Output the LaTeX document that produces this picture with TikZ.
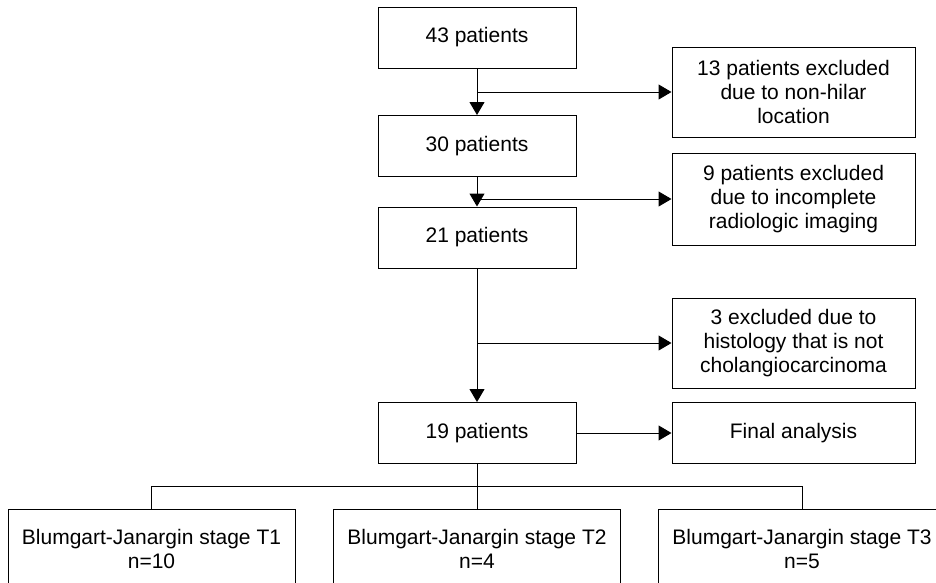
\documentclass[tikz,border=0pt]{standalone}
\usepackage{fontspec}
\setmainfont{Liberation Sans}
\usetikzlibrary{arrows.meta}
\begin{document}
\begin{tikzpicture}[x=1pt,y=-1pt,
 box/.style={draw, line width=1pt, align=center, font=\fontsize{21}{24}\selectfont, inner sep=0pt},
 mainbox/.style={box, minimum width=198pt, minimum height=61pt},
 sidebox/.style={box, minimum width=243pt},
 stagebox/.style={box, minimum width=287pt, minimum height=79pt, anchor=north},
 arr/.style={line width=1pt, -{Triangle[length=13pt,width=15pt]}},
 ln/.style={line width=1pt}]
\useasboundingbox (0,0) rectangle (936,582);
\clip (0,0) rectangle (936,582);
% main column
\node[mainbox] (n43) at (477,37.5) {43 patients};
\node[mainbox] (n30) at (477,146) {30 patients};
\node[mainbox] (n21) at (477,237.5) {21 patients};
\node[mainbox] (n19) at (477,433) {19 patients};
% side boxes
\node[sidebox, minimum height=90pt] (n13) at (793.5,92) {13 patients excluded\\due to non-hilar\\location};
\node[sidebox, minimum height=92pt] (n9) at (793.5,199) {9 patients excluded\\due to incomplete\\radiologic imaging};
\node[sidebox, minimum height=90pt] (n3) at (793.5,343) {3 excluded due to\\histology that is not\\cholangiocarcinoma};
\node[sidebox, minimum height=61pt] (nf) at (793.5,433) {Final analysis};
% stage boxes
\node[stagebox] (t1) at (151.5,508.5) {Blumgart-Janargin stage T1\\n=10};
\node[stagebox] (t2) at (477,508.5) {Blumgart-Janargin stage T2\\n=4};
\node[stagebox] (t3) at (802,508.5) {Blumgart-Janargin stage T3\\n=5};
% connectors
\draw[arr] (n43) -- (n30);
\draw[arr] (n30) -- (n21);
\draw[arr] (n21) -- (n19);
\coordinate (b1) at (n43.south |- n13);
\coordinate (b2) at (n30.south |- n9);
\coordinate (b3) at (n21.south |- n3);
\draw[arr] (b1) -- (n13);
\draw[arr] (b2) -- (n9);
\draw[arr] (b3) -- (n3);
\draw[arr] (n19) -- (nf);
\coordinate (j) at (477,486);
\draw[ln] (n19.south) -- (j);
\draw[ln] (t1.north) -- (t1.north |- j) -- (t3.north |- j) -- (t3.north);
\draw[ln] (j) -- (t2.north);
\end{tikzpicture}
\end{document}
